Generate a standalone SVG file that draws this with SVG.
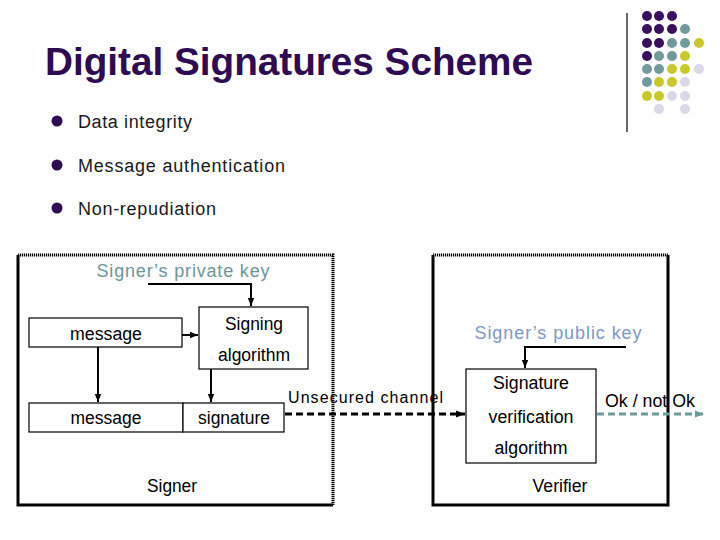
<svg xmlns="http://www.w3.org/2000/svg" width="720" height="540" viewBox="0 0 720 540">
<defs>
<style>
text{font-family:"Liberation Sans",Arial,sans-serif;fill:#000}
.t{font-size:18px}
.b{font-size:18px;fill:#1a1a1a}
.box{fill:#fff;stroke:#000;stroke-width:1.2}
.solid{fill:none;stroke:#000;stroke-width:3}
.dot{fill:none;stroke:#000;stroke-width:3;stroke-dasharray:1.2 0.8}
.arr{fill:none;stroke:#000;stroke-width:2}
.dash{fill:none;stroke:#000;stroke-width:3;stroke-dasharray:7 4}
.dasht{fill:none;stroke:#6f9a9c;stroke-width:3;stroke-dasharray:7 4}
.P{fill:#3a0f5e}.T{fill:#729a9c}.Y{fill:#c8c82a}.L{fill:#d8d8e8}
</style>
<marker id="ah" viewBox="0 0 10 10" refX="10" refY="5" markerWidth="4" markerHeight="4" orient="auto" markerUnits="strokeWidth"><path d="M0,1 L10,5 L0,9 z" fill="#000"/></marker>
<marker id="ah2" viewBox="0 0 10 10" refX="10" refY="5" markerWidth="3" markerHeight="3" orient="auto" markerUnits="strokeWidth"><path d="M0,1 L10,5 L0,9 z" fill="#000"/></marker>
<marker id="aht" viewBox="0 0 10 10" refX="10" refY="5" markerWidth="3" markerHeight="3" orient="auto" markerUnits="strokeWidth"><path d="M0,1 L10,5 L0,9 z" fill="#6f9a9c"/></marker>
</defs>
<rect width="720" height="540" fill="#fff"/>

<g id="logo">
<line x1="627" y1="13" x2="627" y2="132" stroke="#000" stroke-width="1.2"/>
<circle class="P" cx="647" cy="16" r="5"/><circle class="P" cx="659" cy="16" r="5"/><circle class="P" cx="672" cy="16" r="5"/>
<circle class="P" cx="647" cy="29" r="5"/><circle class="P" cx="659" cy="29" r="5"/><circle class="P" cx="672" cy="29" r="5"/><circle class="T" cx="685" cy="29" r="5"/>
<circle class="P" cx="647" cy="43" r="5"/><circle class="P" cx="659" cy="43" r="5"/><circle class="T" cx="672" cy="43" r="5"/><circle class="T" cx="685" cy="43" r="5"/><circle class="Y" cx="699" cy="43" r="5"/>
<circle class="P" cx="647" cy="56" r="5"/><circle class="T" cx="659" cy="56" r="5"/><circle class="T" cx="672" cy="56" r="5"/><circle class="Y" cx="685" cy="56" r="5"/>
<circle class="T" cx="647" cy="69" r="5"/><circle class="T" cx="659" cy="69" r="5"/><circle class="Y" cx="672" cy="69" r="5"/><circle class="Y" cx="685" cy="69" r="5"/><circle class="L" cx="699" cy="69" r="5"/>
<circle class="T" cx="647" cy="82" r="5"/><circle class="Y" cx="659" cy="82" r="5"/><circle class="Y" cx="672" cy="82" r="5"/><circle class="L" cx="685" cy="82" r="5"/>
<circle class="Y" cx="647" cy="96" r="5"/><circle class="Y" cx="659" cy="96" r="5"/><circle class="L" cx="672" cy="96" r="5"/><circle class="L" cx="685" cy="96" r="5"/>
<circle class="L" cx="659" cy="109" r="5"/><circle class="L" cx="685" cy="109" r="5"/>
</g>

<g id="title">
<text x="45" y="75" font-size="39" font-weight="bold" style="fill:#2e0b52" textLength="488" lengthAdjust="spacingAndGlyphs">Digital Signatures Scheme</text>
</g>

<g id="bullets">
<circle cx="57" cy="121" r="5.5" fill="#2e0b52"/>
<text class="b" x="78" y="128" textLength="114" lengthAdjust="spacing">Data integrity</text>
<circle cx="57" cy="165" r="5.5" fill="#2e0b52"/>
<text class="b" x="78" y="172" textLength="207" lengthAdjust="spacing">Message authentication</text>
<circle cx="57" cy="208" r="5.5" fill="#2e0b52"/>
<text class="b" x="78" y="215" textLength="138" lengthAdjust="spacing">Non-repudiation</text>
</g>

<g id="signer">
<path class="solid" d="M18,255 V505 H333"/>
<path class="dot" d="M18,255 H333 V505"/>
<text class="t" x="172" y="492" text-anchor="middle" textLength="50" lengthAdjust="spacingAndGlyphs">Signer</text>
</g>

<g id="verifier">
<path class="solid" d="M433,255 V505 H668 V255"/>
<path class="dot" d="M433,255 H668"/>
<text class="t" x="560" y="492" text-anchor="middle" textLength="55" lengthAdjust="spacingAndGlyphs">Verifier</text>
</g>

<g id="private-key">
<text x="183" y="277" font-size="18" text-anchor="middle" style="fill:#6e9698" textLength="173" lengthAdjust="spacing">Signer’s private key</text>
</g>

<g id="public-key">
<text x="558" y="339" font-size="18" text-anchor="middle" style="fill:#8098c8" textLength="167" lengthAdjust="spacing">Signer’s public key</text>
</g>

<g id="message-top">
<rect class="box" x="29" y="318" width="153" height="29"/>
<text class="t" x="106" y="340" text-anchor="middle" textLength="72" lengthAdjust="spacingAndGlyphs">message</text>
</g>

<g id="signing">
<rect class="box" x="199" y="307" width="109" height="62"/>
<text class="t" x="254" y="330" text-anchor="middle" textLength="58" lengthAdjust="spacingAndGlyphs">Signing</text>
<text class="t" x="254" y="361" text-anchor="middle" textLength="72" lengthAdjust="spacingAndGlyphs">algorithm</text>
</g>

<g id="message-bottom">
<rect class="box" x="29" y="403" width="154" height="29"/>
<text class="t" x="106" y="424" text-anchor="middle" textLength="71" lengthAdjust="spacingAndGlyphs">message</text>
</g>

<g id="signature">
<rect class="box" x="183" y="403" width="101" height="29"/>
<text class="t" x="234" y="424" text-anchor="middle" textLength="72" lengthAdjust="spacingAndGlyphs">signature</text>
</g>

<g id="verification">
<rect class="box" x="466" y="369" width="130" height="94"/>
<text class="t" x="531" y="389" text-anchor="middle" textLength="76" lengthAdjust="spacingAndGlyphs">Signature</text>
<text class="t" x="531" y="423" text-anchor="middle" textLength="85" lengthAdjust="spacingAndGlyphs">verification</text>
<text class="t" x="531" y="454" text-anchor="middle" textLength="73" lengthAdjust="spacingAndGlyphs">algorithm</text>
</g>

<g id="connectors">
<path class="arr" d="M148,284 H251 V306" marker-end="url(#ah)"/>
<path class="arr" d="M182,335 H198" marker-end="url(#ah)"/>
<path class="arr" d="M98,347 V402" marker-end="url(#ah)"/>
<path class="arr" d="M211,369 V402" marker-end="url(#ah)"/>
<path class="arr" d="M626,347 H525 V368" marker-end="url(#ah)"/>
<path class="dash" d="M285,414 H465" marker-end="url(#ah2)"/>
<path class="dasht" d="M597,414 H704" marker-end="url(#aht)"/>
</g>

<g id="labels">
<text font-size="16" x="288" y="403" textLength="155" lengthAdjust="spacing">Unsecured channel</text>
<text class="t" x="650" y="407" text-anchor="middle" textLength="90" lengthAdjust="spacingAndGlyphs">Ok / not Ok</text>
</g>
</svg>
